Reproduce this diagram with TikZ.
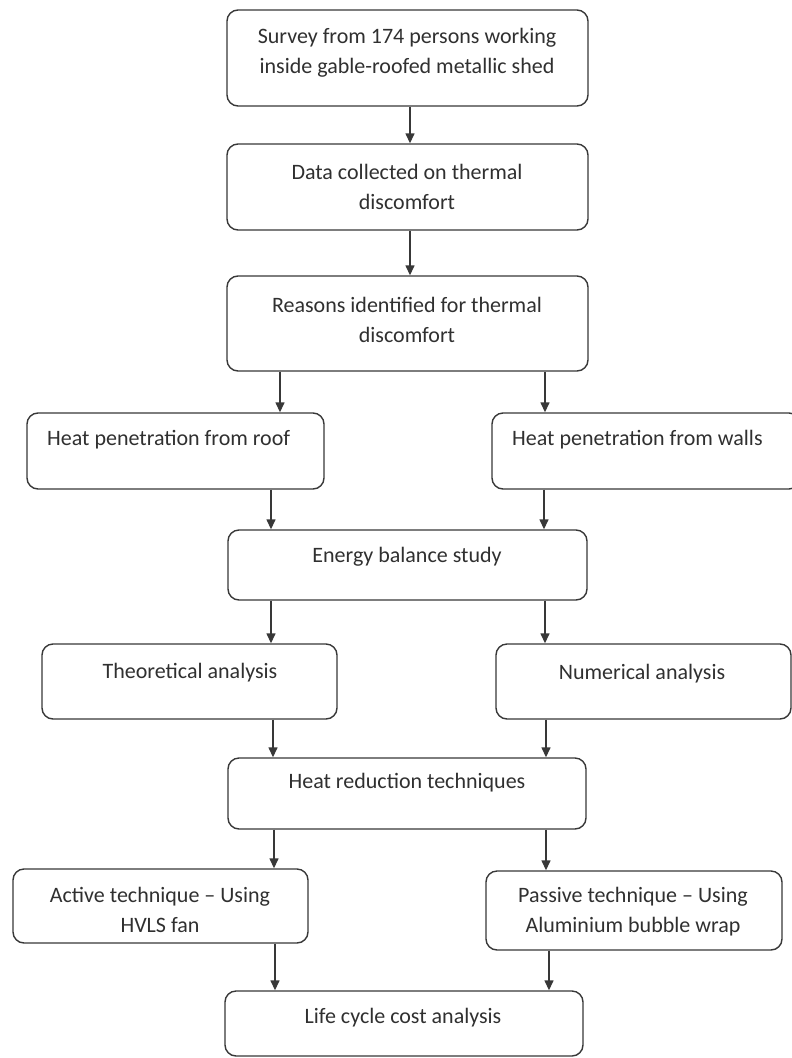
\documentclass[tikz,border=0pt]{standalone}
\usepackage{fontspec}
\setmainfont{Carlito}
\usetikzlibrary{arrows.meta}
\definecolor{ln}{HTML}{383838}
\definecolor{tx}{HTML}{303030}
\tikzset{
  box/.style={draw=ln, line width=1.4pt, rounded corners=11pt, inner sep=0pt, fill=white},
  txt/.style={text=tx, font=\fontsize{22}{30}\selectfont, align=center, inner sep=0pt},
  arr/.style={draw=ln, line width=1.4pt, -{Triangle[length=10pt,width=9pt]}}
}
\begin{document}
\begin{tikzpicture}[x=1pt,y=-1pt]
\useasboundingbox (0,0) rectangle (792,1058);
\fill[white] (0,0) rectangle (792,1058);
\clip (0,0) rectangle (792,1058);
% boxes
\node[box, minimum width=361pt, minimum height=96pt] (b1) at (407.5,58) {};
\node[box, minimum width=361pt, minimum height=86pt] (b2) at (407.5,187) {};
\node[box, minimum width=361pt, minimum height=95pt] (b3) at (407.5,323.5) {};
\node[box, minimum width=297pt, minimum height=76pt] (b4) at (175.5,451) {};
\node[box, minimum width=308pt, minimum height=76pt] (b5) at (646,451) {};
\node[box, minimum width=359pt, minimum height=70pt] (b6) at (407.5,565) {};
\node[box, minimum width=295pt, minimum height=75pt] (b7) at (189.5,681.5) {};
\node[box, minimum width=295pt, minimum height=75pt] (b8) at (643.5,681.5) {};
\node[box, minimum width=358pt, minimum height=71pt] (b9) at (407,793.5) {};
\node[box, minimum width=295pt, minimum height=74pt] (b10) at (160.5,906) {};
\node[box, minimum width=296pt, minimum height=79pt] (b11) at (634,910.5) {};
\node[box, minimum width=358pt, minimum height=65pt] (b12) at (404,1023.5) {};
% texts
\node[txt] (t1) at (407,53) {Survey from 174 persons working\\inside gable-roofed metallic shed};
\node[txt] (t2) at (407,187) {Data collected on thermal\\discomfort};
\node[txt] (t3) at (407,320) {Reasons identified for thermal\\discomfort};
\node[txt, anchor=west] (t4) at (47,440) {Heat penetration from roof};
\node[txt, anchor=west] (t5) at (512,440) {Heat penetration from walls};
\node[txt] (t6) at (407,557) {Energy balance study};
\node[txt] (t7) at (190,673) {Theoretical analysis};
\node[txt] (t8) at (642,674) {Numerical analysis};
\node[txt] (t9) at (407,783) {Heat reduction techniques};
\node[txt] (t10) at (160,910) {Active technique -- Using\\HVLS fan};
\node[txt] (t11) at (633,912) {Passive technique -- Using\\Aluminium bubble wrap};
\node[txt] (t12) at (403,1018) {Life cycle cost analysis};
% arrow columns
\coordinate (c410) at (410,0);
\coordinate (c280) at (280,0);
\coordinate (c545) at (545,0);
\coordinate (c271) at (271,0);
\coordinate (c544) at (544,0);
\coordinate (c273) at (273,0);
\coordinate (c546) at (546,0);
\coordinate (c274) at (274,0);
\coordinate (c275) at (275,0);
\coordinate (c549) at (549,0);
% arrows
\draw[arr] (b1.south -| c410) -- (b2.north -| c410);
\draw[arr] (b2.south -| c410) -- (b3.north -| c410);
\draw[arr] (b3.south -| c280) -- (b4.north -| c280);
\draw[arr] (b3.south -| c545) -- (b5.north -| c545);
\draw[arr] (b4.south -| c271) -- (b6.north -| c271);
\draw[arr] (b5.south -| c544) -- (b6.north -| c544);
\draw[arr] (b6.south -| c271) -- (b7.north -| c271);
\draw[arr] (b6.south -| c545) -- (b8.north -| c545);
\draw[arr] (b7.south -| c273) -- (b9.north -| c273);
\draw[arr] (b8.south -| c546) -- (b9.north -| c546);
\draw[arr] (b9.south -| c274) -- (b10.north -| c274);
\draw[arr] (b9.south -| c546) -- (b11.north -| c546);
\draw[arr] (b10.south -| c275) -- (b12.north -| c275);
\draw[arr] (b11.south -| c549) -- (b12.north -| c549);
\end{tikzpicture}
\end{document}
